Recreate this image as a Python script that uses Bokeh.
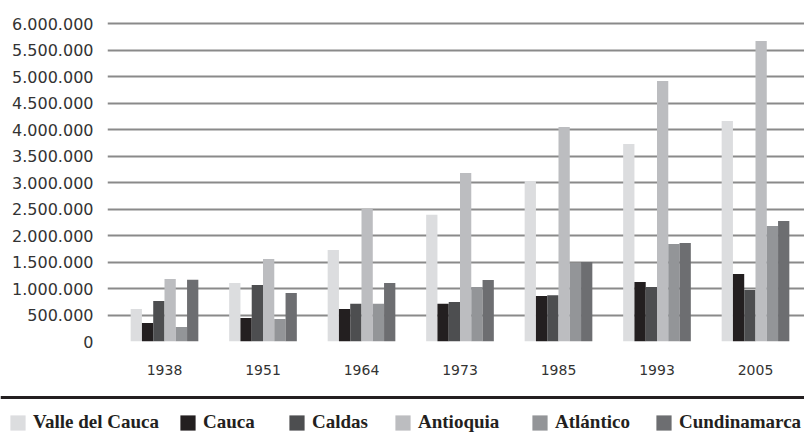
from bokeh.plotting import figure
from bokeh.models import Range1d, FixedTicker, Legend, LegendItem, ColumnDataSource, Span
from bokeh.layouts import column
from bokeh.transform import dodge
from bokeh.embed import file_html
from bokeh.resources import INLINE

years = ["1938", "1951", "1964", "1973", "1985", "1993", "2005"]
valle_del_cauca = [615000, 1105000, 1725000, 2390000, 3030000, 3725000, 4160000]
cauca = [350000, 445000, 615000, 710000, 860000, 1125000, 1275000]
caldas = [765000, 1065000, 710000, 745000, 875000, 1030000, 972000]
antioquia = [1180000, 1558000, 2505000, 3180000, 4045000, 4915000, 5670000]
atlantico = [275000, 425000, 710000, 1030000, 1480000, 1840000, 2178000]
cundinamarca = [1163000, 915000, 1105000, 1160000, 1500000, 1858000, 2274000]
series_names = ["Valle del Cauca", "Cauca", "Caldas", "Antioquia", "Atlántico", "Cundinamarca"]
y_ticks = [0, 500000, 1000000, 1500000, 2000000, 2500000, 3000000,
           3500000, 4000000, 4500000, 5000000, 5500000, 6000000]
y_tick_labels = ["0", "500.000", "1.000.000", "1.500.000", "2.000.000", "2.500.000",
                 "3.000.000", "3.500.000", "4.000.000", "4.500.000", "5.000.000",
                 "5.500.000", "6.000.000"]

colors = ["#dcdddf", "#231f20", "#4d4e50", "#bcbdc0", "#939598", "#6d6e71"]
series_values = [valle_del_cauca, cauca, caldas, antioquia, atlantico, cundinamarca]
keys = ["s%d" % i for i in range(len(series_names))]

data = {"idx": list(range(len(years)))}
for k, v in zip(keys, series_values):
    data[k] = v
src = ColumnDataSource(data)

W = 804
H1, H2 = 392, 40

p = figure(width=W, height=H1, output_backend="svg", toolbar_location=None,
           x_range=Range1d(-0.5787, 6.4975), y_range=Range1d(0, 6170000),
           min_border_left=107, min_border_right=0, min_border_top=14, min_border_bottom=51)
p.frame_align = False
p.outline_line_color = None

bw = 0.1145
n = len(keys)
for i, (k, c) in enumerate(zip(keys, colors)):
    off = (i - (n - 1) / 2) * bw
    p.vbar(x=dodge("idx", off, range=p.x_range), top=k, width=bw, source=src,
           fill_color=c, line_color=None)

p.xgrid.visible = False
p.ygrid.ticker = FixedTicker(ticks=y_ticks)
p.ygrid.grid_line_color = "#8a8a8a"
p.ygrid.grid_line_width = 2

p.yaxis.ticker = FixedTicker(ticks=y_ticks)
p.yaxis.major_label_overrides = {t: l for t, l in zip(y_ticks, y_tick_labels)}
p.xaxis.ticker = FixedTicker(ticks=list(range(len(years))))
p.xaxis.major_label_overrides = {i: y for i, y in enumerate(years)}
for ax in (p.xaxis, p.yaxis):
    ax.axis_line_color = None
    ax.major_tick_line_color = None
    ax.minor_tick_line_color = None
    ax.major_tick_out = 0
    ax.major_tick_in = 0
    ax.major_label_text_font = "DejaVu Sans"
    ax.major_label_text_color = "#333333"
p.yaxis.major_label_standoff = 14
p.yaxis.major_label_text_font_size = "16px"
p.xaxis.major_label_standoff = 23
p.xaxis.major_label_text_font_size = "14px"

# legend strip below a full-width rule
q = figure(width=W, height=H2, output_backend="svg", toolbar_location=None,
           x_range=Range1d(0, W), y_range=Range1d(0, H2), min_border=0,
           x_axis_location=None, y_axis_location=None)
q.frame_align = False
q.grid.visible = False
q.outline_line_color = None
q.add_layout(Span(location=H2 - 5, dimension="width", line_color="#231f20", line_width=3))

legend_x = [8, 178, 287, 393, 530, 654]
for k, name, c, lx in zip(keys, series_names, colors, legend_x):
    r = q.vbar(x="idx", top=k, width=0.1, source=src, fill_color=c, line_color=None,
               visible=False)
    lg = Legend(items=[LegendItem(label=name, renderers=[r])], location=(lx, -1),
                glyph_width=19, glyph_height=19, label_height=19, label_standoff=6,
                padding=0, margin=0, border_line_color=None,
                background_fill_alpha=0, label_text_font="Liberation Serif",
                label_text_font_style="bold", label_text_font_size="19px",
                label_text_color="#231f20")
    q.add_layout(lg)

layout = column(p, q, spacing=0)
open("out.html", "w").write(file_html(layout, INLINE))
